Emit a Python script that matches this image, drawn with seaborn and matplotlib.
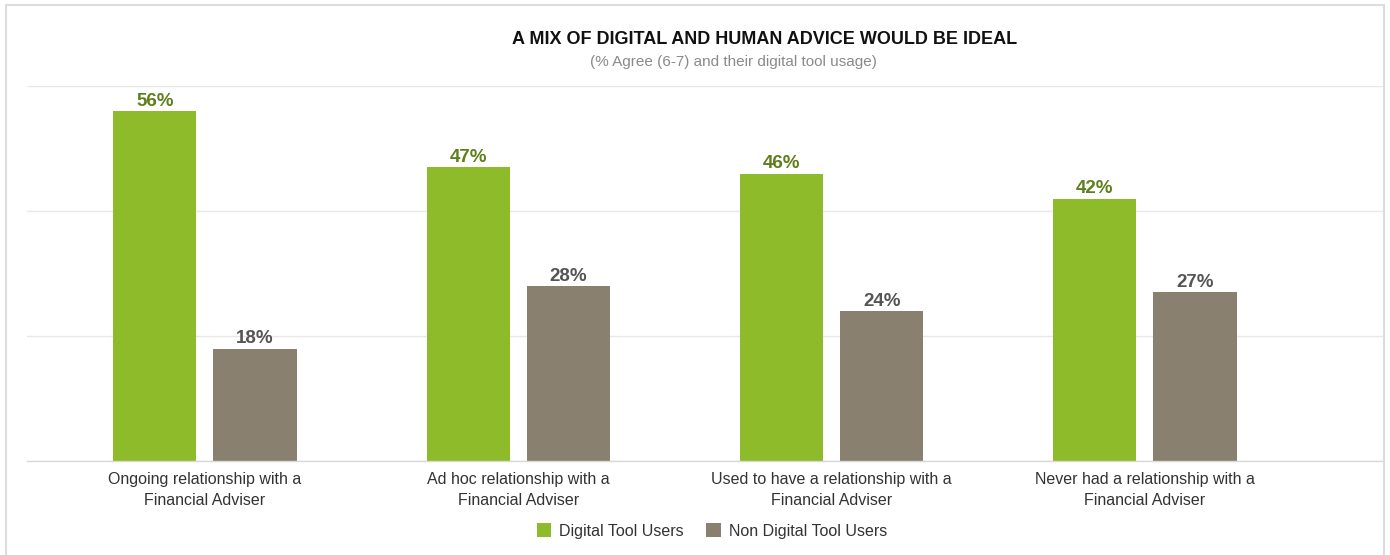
import matplotlib
matplotlib.use("Agg")
import matplotlib.pyplot as plt
from matplotlib.patches import Rectangle, Patch
import seaborn as sns
import pandas as pd

categories = [
    "Ongoing relationship with a\nFinancial Adviser",
    "Ad hoc relationship with a\nFinancial Adviser",
    "Used to have a relationship with a\nFinancial Adviser",
    "Never had a relationship with a\nFinancial Adviser",
]
series_names = ["Digital Tool Users", "Non Digital Tool Users"]
digital_users = [56, 47, 46, 42]
non_digital_users = [18, 28, 24, 27]

title = "A MIX OF DIGITAL AND HUMAN ADVICE WOULD BE IDEAL"
subtitle = "(% Agree (6-7) and their digital tool usage)"

colors = ["#8DBB2A", "#8A8070"]
label_colors = ["#5E7F1A", "#555555"]

df = pd.DataFrame({
    "category": categories * 2,
    "series": [series_names[0]] * 4 + [series_names[1]] * 4,
    "value": digital_users + non_digital_users,
})

sns.set_theme(style="white")
plt.rcParams["font.family"] = ["Liberation Sans", "DejaVu Sans"]

W, H = 1390, 555
fig = plt.figure(figsize=(W / 100, H / 100), dpi=100)
ax = fig.add_axes([27 / W, (H - 461) / H, (1383 - 27) / W, (461 - 86) / H])

sns.barplot(data=df, x="category", y="value", hue="series", order=categories,
            hue_order=series_names, palette=colors, width=0.64, gap=0.17,
            saturation=1, ax=ax, legend=False, edgecolor="none")

ax.set_xlim(-0.568, 3.76)
ax.set_ylim(0, 60)
ax.set_yticks([0, 20, 40, 60])
ax.set_yticklabels([])
ax.yaxis.grid(True, color="#E8E8E8", linewidth=1)
ax.set_axisbelow(True)
ax.tick_params(axis="y", length=0)
ax.tick_params(axis="x", length=0, pad=8, labelsize=11.5, labelcolor="#333333")
for lbl in ax.get_xticklabels():
    lbl.set_linespacing(1.45)
ax.set_xlabel("")
ax.set_ylabel("")
for s in ["top", "right", "left"]:
    ax.spines[s].set_visible(False)
ax.spines["bottom"].set_color("#D8D8D8")
ax.spines["bottom"].set_linewidth(1)

for container, lc in zip(ax.containers, label_colors):
    ax.bar_label(container, labels=[f"{int(v)}%" for v in container.datavalues],
                 padding=1, fontsize=13.5, fontweight="bold", color=lc)

fig.text(765 / W, 1 - 40 / H, title, ha="center", va="center",
         fontsize=13, fontweight="bold", color="#111111")
fig.text(733 / W, 1 - 62 / H, subtitle, ha="center", va="center",
         fontsize=11, color="#8A8A8A")

handles = [Patch(facecolor=c, edgecolor="none") for c in colors]
fig.legend(handles, series_names, loc="center", bbox_to_anchor=(712 / W, 1 - 531 / H),
           ncol=2, frameon=False, fontsize=11.5, labelcolor="#333333",
           handlelength=0.9, handleheight=0.9, handletextpad=0.5, columnspacing=1.4)

fig.add_artist(Rectangle((6 / W, -0.05), (1384 - 6) / W, 1.05 - 5 / H,
                         transform=fig.transFigure, fill=False,
                         edgecolor="#DDDDDD", linewidth=1.5))

fig.savefig("out.png", dpi=100)
